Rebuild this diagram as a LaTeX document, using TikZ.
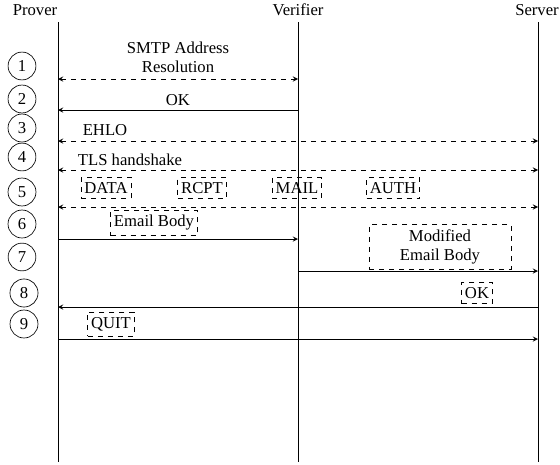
\documentclass[tikz,border=0pt]{standalone}
\usepackage{fontspec}
\setmainfont{Liberation Serif}
\usepackage{tikz}
\usetikzlibrary{shapes,arrows,positioning}

\begin{document}
\begin{tikzpicture}[x=0.6pt, y=-0.6pt, >=stealth, font=\fontsize{10}{11.5}\selectfont,
    stepnum/.style={circle, draw, inner sep=3pt},
    msgbox/.style={rectangle, draw, dashed, inner xsep=2pt, inner ysep=3pt}]
    \useasboundingbox (0,0) rectangle (560,465);

    % parties and lifelines
    \node (prover) at (35,10) {Prover};
    \node (verifier) at (298,10) {Verifier};
    \node (server) at (537,10) {Server};
    \coordinate (ptop) at (58,22);   \coordinate (pbot) at (58,462);
    \coordinate (vtop) at (298,22);  \coordinate (vbot) at (298,462);
    \coordinate (stop) at (538,22);  \coordinate (sbot) at (538,462);
    \draw (ptop) -- (pbot);
    \draw (vtop) -- (vbot);
    \draw (stop) -- (sbot);

    % message rows
    \foreach \i/\y in {1/79, 2/110, 3/141, 4/170, 5/207, 6/239, 7/271, 8/307, 9/339} {
        \coordinate (p\i) at (58,\y);
        \coordinate (v\i) at (298,\y);
        \coordinate (s\i) at (538,\y);
    }

    % step numbers
    \foreach \i/\x/\y in {1/22/66, 2/22/99, 3/22/128, 4/22/157, 5/22/192, 6/22/224, 7/22/257, 8/24/293, 9/24/324}
        \node[stepnum] (n\i) at (\x,\y) {\i};

    % labels
    \node[align=center] (resolve) at (178,57) {SMTP Address\\Resolution};
    \node (ok) at (178,100) {OK};
    \node (ehlo) at (105,130) {EHLO};
    \node (tls) at (130,160) {TLS handshake};
    \node[msgbox] (data) at (106,188) {DATA};
    \node[msgbox] (rcpt) at (202,188) {RCPT};
    \node[msgbox] (mail) at (297,188) {MAIL};
    \node[msgbox] (auth) at (393,188) {AUTH};
    \node[msgbox] (body) at (154,223) {Email Body};
    \node[msgbox, align=center, minimum width=85pt] (modbody) at (440,247) {Modified\\Email Body};
    \node[msgbox] (srvok) at (477,293) {OK};
    \node[msgbox] (quit) at (111,324) {QUIT};

    % messages
    \draw[<->, dashed] (p1) -- (v1);
    \draw[->] (v2) -- (p2);
    \draw[<->, dashed] (p3) -- (s3);
    \draw[<->, dashed] (p4) -- (s4);
    \draw[<->, dashed] (p5) -- (s5);
    \draw[->] (p6) -- (v6);
    \draw[->] (v7) -- (s7);
    \draw[->] (s8) -- (p8);
    \draw[->] (p9) -- (s9);
\end{tikzpicture}
\end{document}
